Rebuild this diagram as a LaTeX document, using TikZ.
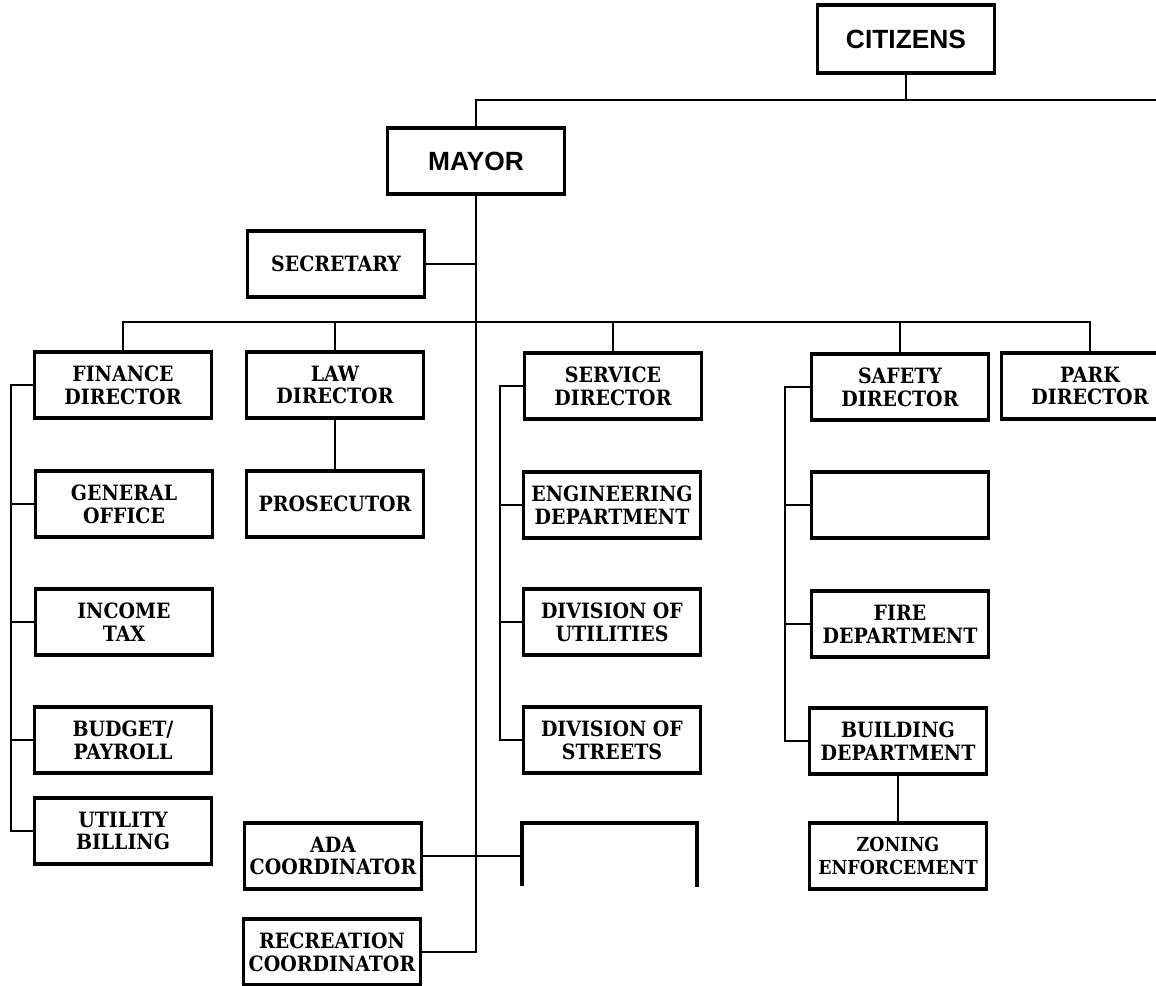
\documentclass[tikz,border=0pt]{standalone}
\usepackage{fontspec}
\setmainfont{DejaVu Serif Condensed}
\setsansfont{Liberation Sans}
\begin{document}
\begin{tikzpicture}[x=0.02cm,y=-0.02cm,font=\fontsize{12}{13}\selectfont\bfseries]
			\useasboundingbox (0,0) rectangle (1156,986);
			\tikzset{hop/.style={draw,line width=2.2pt,minimum width=3.54cm,minimum height=1.32cm,align=center,inner sep=1pt},
				day/.style={line width=1.3pt},
				ten/.style={font=\sffamily\fontsize{15}{16}\selectfont\bfseries}}
			% top
			\node[hop,ten,minimum height=1.36cm] (citizens) at (906,39) {CITIZENS};
			\node[hop,ten] (mayor) at (476,161) {MAYOR};
			\node[hop] (secretary) at (336,264) {SECRETARY};
			% directors
			\node[hop] (finance) at (123,385) {FINANCE\\DIRECTOR};
			\node[hop] (law) at (335,385) {LAW\\DIRECTOR};
			\node[hop] (service) at (613,386) {SERVICE\\DIRECTOR};
			\node[hop] (safety) at (900,387) {SAFETY\\DIRECTOR};
			\node[hop] (park) at (1090,386) {PARK\\DIRECTOR};
			% finance column
			\node[hop] (general) at (124,504) {GENERAL\\OFFICE};
			\node[hop] (income) at (124,622) {INCOME\\TAX};
			\node[hop] (budget) at (123,740) {BUDGET/\\PAYROLL};
			\node[hop] (billing) at (123,831) {UTILITY\\BILLING};
			\node[hop] (prosecutor) at (335,504) {PROSECUTOR};
			% service column
			\node[hop] (engineering) at (612,505) {ENGINEERING\\DEPARTMENT};
			\node[hop] (utilities) at (612,622) {DIVISION OF\\UTILITIES};
			\node[hop] (streets) at (612,740) {DIVISION OF\\STREETS};
			% safety column
			\node[hop] (blank) at (900,505) {};
			\node[hop] (fire) at (900,624) {FIRE\\DEPARTMENT};
			\node[hop] (building) at (898,741) {BUILDING\\DEPARTMENT};
			\node[hop,font=\fontsize{11}{13}\selectfont\bfseries] (zoning) at (898,856) {ZONING\\ENFORCEMENT};
			% coordinators
			\node[hop] (ada) at (333,856) {ADA\\COORDINATOR};
			\node[hop] (recreation) at (332,952) {RECREATION\\COORDINATOR};
			\coordinate (ob1) at (522,886);
			\coordinate (ob2) at (522,823);
			\coordinate (ob3) at (697,823);
			\coordinate (ob4) at (697,887);
			\draw[line width=2.2pt] (ob1) -- (ob2) -- (ob3) -- (ob4);
			% lines
			\coordinate (topbus) at (1156,100);
			\coordinate (db) at (0,322);
			\coordinate (fb) at (11,0);
			\coordinate (sb) at (500,0);
			\coordinate (tb) at (785,0);
			\draw[day] (citizens) -- (citizens |- topbus);
			\draw[day] (mayor) |- (topbus);
			\draw[day] (mayor) |- (recreation);
			\draw[day] (secretary) -- (secretary -| mayor);
			\draw[day] (finance) |- (db -| park) -- (park);
			\foreach \n in {law,service,safety}{\draw[day] (\n) -- (\n |- db);}
			\draw[day] (finance.west) -| (fb |- billing) -- (billing.west);
			\foreach \n in {general,income,budget}{\draw[day] (\n.west) -- (\n.west -| fb);}
			\draw[day] (service.west) -| (sb |- streets) -- (streets.west);
			\foreach \n in {engineering,utilities}{\draw[day] (\n.west) -- (\n.west -| sb);}
			\draw[day] (safety.west) -| (tb |- building) -- (building.west);
			\foreach \n in {blank,fire}{\draw[day] (\n.west) -- (\n.west -| tb);}
			\draw[day] (law) -- (prosecutor);
			\draw[day] (building) -- (zoning);
			\draw[day] (ada) -- (ada -| ob1);
		\end{tikzpicture}
\end{document}
